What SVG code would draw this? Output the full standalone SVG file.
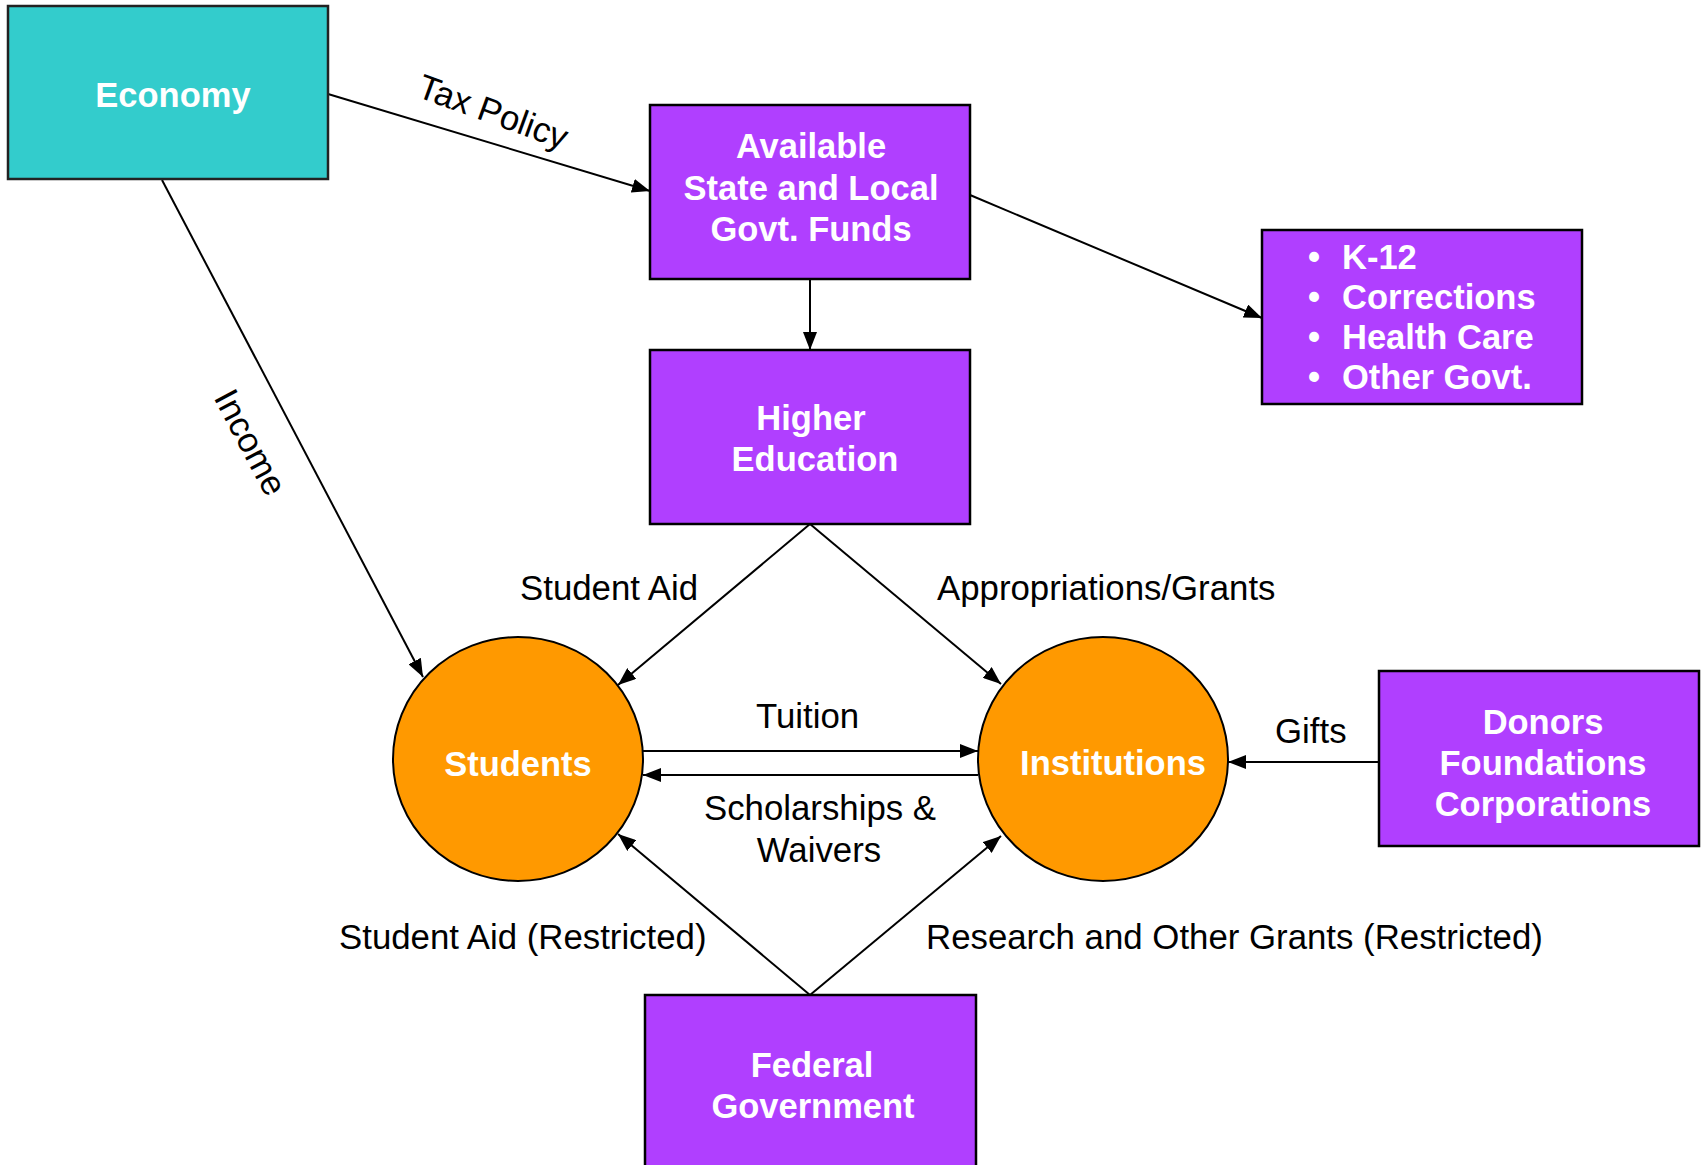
<svg xmlns="http://www.w3.org/2000/svg" width="1702" height="1165" viewBox="0 0 1702 1165">
<style>
.box{fill:#B03FFF;stroke:#000;stroke-width:2.5}
.eco{fill:#33CCCC;stroke:#222;stroke-width:2.5}
.circ{fill:#FF9900;stroke:#000;stroke-width:2}
.wt{font-family:"Liberation Sans",Arial,sans-serif;font-weight:bold;font-size:34.5px;fill:#fff;text-anchor:middle}
.wl{font-family:"Liberation Sans",Arial,sans-serif;font-weight:bold;font-size:34.5px;fill:#fff}
.lb{font-family:"Liberation Sans",Arial,sans-serif;font-size:34.8px;fill:#000}
.ln{stroke:#000;stroke-width:2;fill:none;marker-end:url(#ah)}
</style>
<defs>
<marker id="ah" markerUnits="userSpaceOnUse" markerWidth="18" markerHeight="14" refX="18" refY="7" orient="auto">
<path d="M0,0 L18,7 L0,14 z" fill="#000"/>
</marker>
</defs>
<rect width="1702" height="1165" fill="#fff"/>
<g id="connectors">
<path class="ln" d="M328,94 L650,191"/>
<path class="ln" d="M162,180 L423,677"/>
<path class="ln" d="M810,279 L810,350"/>
<path class="ln" d="M970,195 L1262,318"/>
<path class="ln" d="M810,524 L618,685"/>
<path class="ln" d="M810,524 L1001,684"/>
<path class="ln" d="M643,751 L978,751"/>
<path class="ln" d="M978,775 L643,775"/>
<path class="ln" d="M810,995 L618,834"/>
<path class="ln" d="M810,995 L1001,836"/>
<path class="ln" d="M1379,762 L1228,762"/>
</g>
<g id="labels">
<text class="lb" text-anchor="middle" x="489" y="123" transform="rotate(20 489 123)">Tax Policy</text>
<text class="lb" text-anchor="middle" x="240" y="448" transform="rotate(62 240 448)">Income</text>
<text class="lb" x="520" y="600">Student Aid</text>
<text class="lb" x="937" y="600">Appropriations/Grants</text>
<text class="lb" x="756" y="728">Tuition</text>
<text class="lb" text-anchor="middle" x="820" y="820">Scholarships &amp;</text>
<text class="lb" text-anchor="middle" x="819" y="862">Waivers</text>
<text class="lb" x="1275" y="743">Gifts</text>
<text class="lb" x="339" y="949">Student Aid (Restricted)</text>
<text class="lb" x="926" y="949">Research and Other Grants (Restricted)</text>
</g>
<g id="economy">
<rect class="eco" x="8" y="6" width="320" height="173"/>
<text class="wt" x="173" y="107">Economy</text>
</g>
<g id="available-funds">
<rect class="box" x="650" y="105" width="320" height="174"/>
<text class="wt" x="811" y="158">Available</text>
<text class="wt" x="811" y="199.5">State and Local</text>
<text class="wt" x="811" y="241">Govt. Funds</text>
</g>
<g id="higher-education">
<rect class="box" x="650" y="350" width="320" height="174"/>
<text class="wt" x="811" y="430">Higher</text>
<text class="wt" x="815" y="471">Education</text>
</g>
<g id="other-spending">
<rect class="box" x="1262" y="230" width="320" height="174"/>
<text class="wt" x="1314" y="269">•</text>
<text class="wt" x="1314" y="309">•</text>
<text class="wt" x="1314" y="349">•</text>
<text class="wt" x="1314" y="389">•</text>
<text class="wl" x="1342" y="269">K-12</text>
<text class="wl" x="1342" y="309">Corrections</text>
<text class="wl" x="1342" y="349">Health Care</text>
<text class="wl" x="1342" y="389">Other Govt.</text>
</g>
<g id="donors">
<rect class="box" x="1379" y="671" width="320" height="175"/>
<text class="wt" x="1543" y="734">Donors</text>
<text class="wt" x="1543" y="775">Foundations</text>
<text class="wt" x="1543" y="816">Corporations</text>
</g>
<g id="federal-government">
<rect class="box" x="645" y="995" width="331" height="190"/>
<text class="wt" x="812" y="1077">Federal</text>
<text class="wt" x="813" y="1118">Government</text>
</g>
<g id="students">
<ellipse class="circ" cx="518" cy="759" rx="125" ry="122"/>
<text class="wt" x="518" y="776">Students</text>
</g>
<g id="institutions">
<ellipse class="circ" cx="1103" cy="759" rx="125" ry="122"/>
<text class="wt" x="1113" y="775">Institutions</text>
</g>
</svg>
